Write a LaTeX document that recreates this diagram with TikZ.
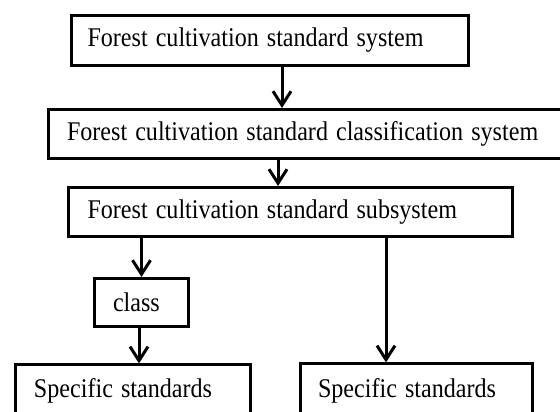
\documentclass[tikz,border=0pt]{standalone}
\usepackage{graphicx}
\usepackage{fontspec}
\setmainfont{Liberation Serif}
\usetikzlibrary{arrows.meta}
\newcommand{\tallt}[1]{\scalebox{1}[1.12]{#1}}
\begin{document}
\begin{tikzpicture}[x=1pt,y=-1pt,
  box/.style={draw, line width=3pt, inner ysep=0pt, align=left,
    font=\fontsize{24.1}{29}\selectfont},
  arr/.style={line width=3pt, -{Straight Barb[length=14pt,width=18pt]}}]
\useasboundingbox (0,0) rectangle (560,412);
\clip (0,0) rectangle (560,412);
\node[box, minimum width=397pt, minimum height=50pt, inner xsep=16pt, text width=365pt] (b1) at (270,40.5) {\tallt{Forest cultivation standard system}};
\node[box, minimum width=530pt, minimum height=49pt, inner xsep=18.5pt, text width=493pt] (b2) at (313.5,134) {\tallt{Forest cultivation standard classification system}};
\node[box, minimum width=444pt, minimum height=49pt, inner xsep=19pt, text width=406pt] (b3) at (290.5,212) {\tallt{Forest cultivation standard subsystem}};
\node[box, minimum width=94pt, minimum height=48pt, inner xsep=18.5pt, text width=57pt] (cl) at (141.5,302.5) {\tallt{class}};
\node[box, minimum width=235.5pt, minimum height=51.6pt, inner xsep=19pt, text width=197.5pt] (sL) at (132.75,390.7) {\tallt{Specific standards}};
\node[box, minimum width=232pt, minimum height=53.6pt, inner xsep=17.5pt, text width=197pt] (sR) at (416.5,390.7) {\tallt{Specific standards}};
\coordinate (c1) at (282,0);
\coordinate (c2) at (278,0);
\coordinate (c3) at (141.5,0);
\coordinate (c4) at (139,0);
\coordinate (c5) at (386,0);
\draw[arr] (b1.south -| c1) -- (b2.north -| c1);
\draw[arr] (b2.south -| c2) -- (b3.north -| c2);
\draw[arr] (b3.south -| c3) -- (cl.north -| c3);
\draw[arr] (cl.south -| c4) -- (sL.north -| c4);
\draw[arr] (b3.south -| c5) -- (sR.north -| c5);
\end{tikzpicture}
\end{document}
